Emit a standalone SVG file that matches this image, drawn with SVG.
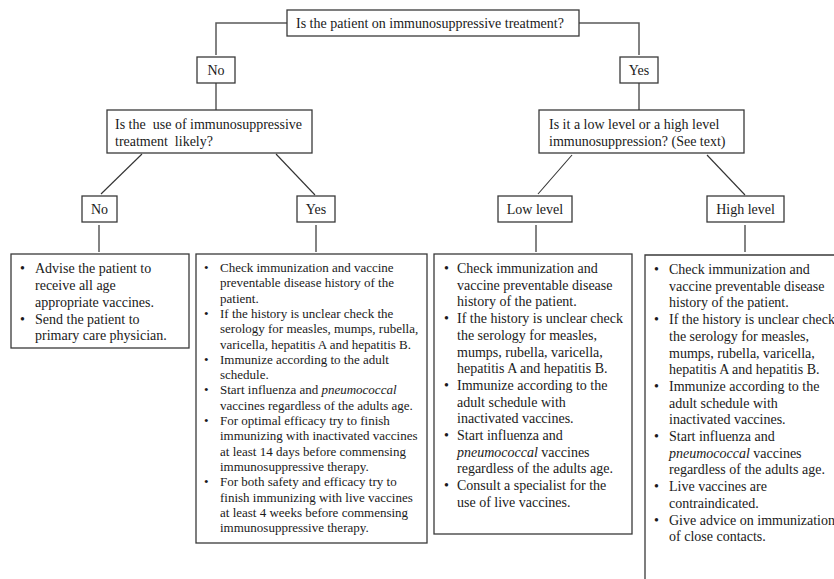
<svg xmlns="http://www.w3.org/2000/svg" width="834" height="579" viewBox="0 0 834 579">
<style>
  .box { fill: #ffffff; stroke: #3a3a3a; stroke-width: 1.3; }
  .conn { fill: none; stroke: #5a5a5a; stroke-width: 1.5; }
  .diag { fill: none; stroke: #333333; stroke-width: 1.1; }
  text { font-family: "Liberation Serif", "Times New Roman", serif; fill: #1a1a1a; }
  .t14 { font-size: 14px; }
  .t13 { font-size: 13px; }
  .mid { text-anchor: middle; }
  .it { font-style: italic; }
</style>
<rect width="834" height="579" fill="#ffffff"/>

<g id="connectors">
  <polyline class="conn" points="287,23 216,23 216,55"/>
  <polyline class="conn" points="579,23 639,23 639,55"/>
  <line class="conn" x1="216" y1="83" x2="216" y2="110"/>
  <line class="conn" x1="639" y1="83" x2="639" y2="110"/>
  <line class="diag" x1="142" y1="154" x2="101" y2="194"/>
  <line class="diag" x1="276" y1="154" x2="315" y2="195"/>
  <line class="diag" x1="572" y1="155" x2="538" y2="194"/>
  <line class="diag" x1="707" y1="155" x2="745" y2="195"/>
  <line class="conn" x1="99" y1="225" x2="99" y2="252"/>
  <line class="conn" x1="316" y1="225" x2="316" y2="252"/>
  <line class="conn" x1="536" y1="225" x2="536" y2="252"/>
  <line class="conn" x1="745" y1="225" x2="745" y2="252"/>
</g>

<g id="q-top">
  <rect class="box" x="287" y="10" width="292" height="26"/>
  <text class="t14" x="296" y="28">Is the patient on immunosuppressive treatment?</text>
</g>

<g id="no-1">
  <rect class="box" x="197" y="57" width="38" height="26"/>
  <text class="t14 mid" x="216" y="75">No</text>
</g>

<g id="yes-1">
  <rect class="box" x="620" y="57" width="38" height="26"/>
  <text class="t14 mid" x="639" y="75">Yes</text>
</g>

<g id="q-likely">
  <rect class="box" x="107" y="110" width="205" height="43"/>
  <text class="t14" x="115" y="129" xml:space="preserve">Is the  use of immunosuppressive</text>
  <text class="t14" x="115" y="146" xml:space="preserve">treatment  likely?</text>
</g>

<g id="q-level">
  <rect class="box" x="539" y="110" width="205" height="43"/>
  <text class="t14" x="549" y="129">Is it a low level or a high level</text>
  <text class="t14" x="549" y="146">immunosuppression? (See text)</text>
</g>

<g id="no-2">
  <rect class="box" x="82" y="196" width="35" height="26"/>
  <text class="t14 mid" x="99.5" y="214">No</text>
</g>

<g id="yes-2">
  <rect class="box" x="297" y="196" width="38" height="26"/>
  <text class="t14 mid" x="316" y="214">Yes</text>
</g>

<g id="low-level">
  <rect class="box" x="498" y="196" width="74" height="26"/>
  <text class="t14 mid" x="535" y="214">Low level</text>
</g>

<g id="high-level">
  <rect class="box" x="707" y="196" width="77" height="26"/>
  <text class="t14 mid" x="745.5" y="214">High level</text>
</g>

<g id="advice-no">
  <rect class="box" x="11" y="254" width="178" height="94"/>
  <text class="t14" x="20" y="273">•</text>
  <text class="t14" x="35" y="273">Advise the patient to</text>
  <text class="t14" x="35" y="290">receive all age</text>
  <text class="t14" x="35" y="307">appropriate vaccines.</text>
  <text class="t14" x="20" y="324">•</text>
  <text class="t14" x="35" y="324">Send the patient to</text>
  <text class="t14" x="35" y="340">primary care physician.</text>
</g>

<g id="advice-yes">
  <rect class="box" x="196" y="254" width="231" height="289"/>
  <text class="t13" x="204" y="272">•</text>
  <text class="t13" x="220" y="272">Check immunization and vaccine</text>
  <text class="t13" x="220" y="287.3">preventable disease history of the</text>
  <text class="t13" x="220" y="302.6">patient.</text>
  <text class="t13" x="204" y="317.9">•</text>
  <text class="t13" x="220" y="317.9">If the history is unclear check the</text>
  <text class="t13" x="220" y="333.2">serology for measles, mumps, rubella,</text>
  <text class="t13" x="220" y="348.5">varicella, hepatitis A and hepatitis B.</text>
  <text class="t13" x="204" y="363.8">•</text>
  <text class="t13" x="220" y="363.8">Immunize according to the adult</text>
  <text class="t13" x="220" y="379.1">schedule.</text>
  <text class="t13" x="204" y="394.4">•</text>
  <text class="t13" x="220" y="394.4">Start influenza and <tspan class="it">pneumococcal</tspan></text>
  <text class="t13" x="220" y="409.7">vaccines regardless of the adults age.</text>
  <text class="t13" x="204" y="425">•</text>
  <text class="t13" x="220" y="425">For optimal efficacy try to finish</text>
  <text class="t13" x="220" y="440.3">immunizing with inactivated vaccines</text>
  <text class="t13" x="220" y="455.6">at least 14 days before commensing</text>
  <text class="t13" x="220" y="470.9">immunosuppressive therapy.</text>
  <text class="t13" x="204" y="486.2">•</text>
  <text class="t13" x="220" y="486.2">For both safety and efficacy try to</text>
  <text class="t13" x="220" y="501.5">finish immunizing with live vaccines</text>
  <text class="t13" x="220" y="516.8">at least 4 weeks before commensing</text>
  <text class="t13" x="220" y="532.1">immunosuppressive therapy.</text>
</g>

<g id="advice-low">
  <rect class="box" x="434" y="254" width="198" height="280"/>
  <text class="t14" x="444" y="273">•</text>
  <text class="t14" x="457" y="273">Check immunization and</text>
  <text class="t14" x="457" y="289.7">vaccine preventable disease</text>
  <text class="t14" x="457" y="306.4">history of the patient.</text>
  <text class="t14" x="444" y="323.1">•</text>
  <text class="t14" x="457" y="323.1">If the history is unclear check</text>
  <text class="t14" x="457" y="339.8">the serology for measles,</text>
  <text class="t14" x="457" y="356.5">mumps, rubella, varicella,</text>
  <text class="t14" x="457" y="373.2">hepatitis A and hepatitis B.</text>
  <text class="t14" x="444" y="389.9">•</text>
  <text class="t14" x="457" y="389.9">Immunize according to the</text>
  <text class="t14" x="457" y="406.6">adult schedule with</text>
  <text class="t14" x="457" y="423.3">inactivated vaccines.</text>
  <text class="t14" x="444" y="440">•</text>
  <text class="t14" x="457" y="440">Start influenza and</text>
  <text class="t14" x="457" y="456.7"><tspan class="it">pneumococcal</tspan> vaccines</text>
  <text class="t14" x="457" y="473.4">regardless of the adults age.</text>
  <text class="t14" x="444" y="490.1">•</text>
  <text class="t14" x="457" y="490.1">Consult a specialist for the</text>
  <text class="t14" x="457" y="506.8">use of live vaccines.</text>
</g>

<g id="advice-high">
  <polyline class="box" fill="none" style="fill:none" points="645,579 645,255 836,255"/>
  <text class="t14" x="654" y="274">•</text>
  <text class="t14" x="669" y="274">Check immunization and</text>
  <text class="t14" x="669" y="290.7">vaccine preventable disease</text>
  <text class="t14" x="669" y="307.4">history of the patient.</text>
  <text class="t14" x="654" y="324.1">•</text>
  <text class="t14" x="669" y="324.1">If the history is unclear check</text>
  <text class="t14" x="669" y="340.8">the serology for measles,</text>
  <text class="t14" x="669" y="357.5">mumps, rubella, varicella,</text>
  <text class="t14" x="669" y="374.2">hepatitis A and hepatitis B.</text>
  <text class="t14" x="654" y="390.9">•</text>
  <text class="t14" x="669" y="390.9">Immunize according to the</text>
  <text class="t14" x="669" y="407.6">adult schedule with</text>
  <text class="t14" x="669" y="424.3">inactivated vaccines.</text>
  <text class="t14" x="654" y="441">•</text>
  <text class="t14" x="669" y="441">Start influenza and</text>
  <text class="t14" x="669" y="457.7"><tspan class="it">pneumococcal</tspan> vaccines</text>
  <text class="t14" x="669" y="474.4">regardless of the adults age.</text>
  <text class="t14" x="654" y="491.1">•</text>
  <text class="t14" x="669" y="491.1">Live vaccines are</text>
  <text class="t14" x="669" y="507.8">contraindicated.</text>
  <text class="t14" x="654" y="524.5">•</text>
  <text class="t14" x="669" y="524.5">Give advice on immunization</text>
  <text class="t14" x="669" y="541.2">of close contacts.</text>
</g>
</svg>
